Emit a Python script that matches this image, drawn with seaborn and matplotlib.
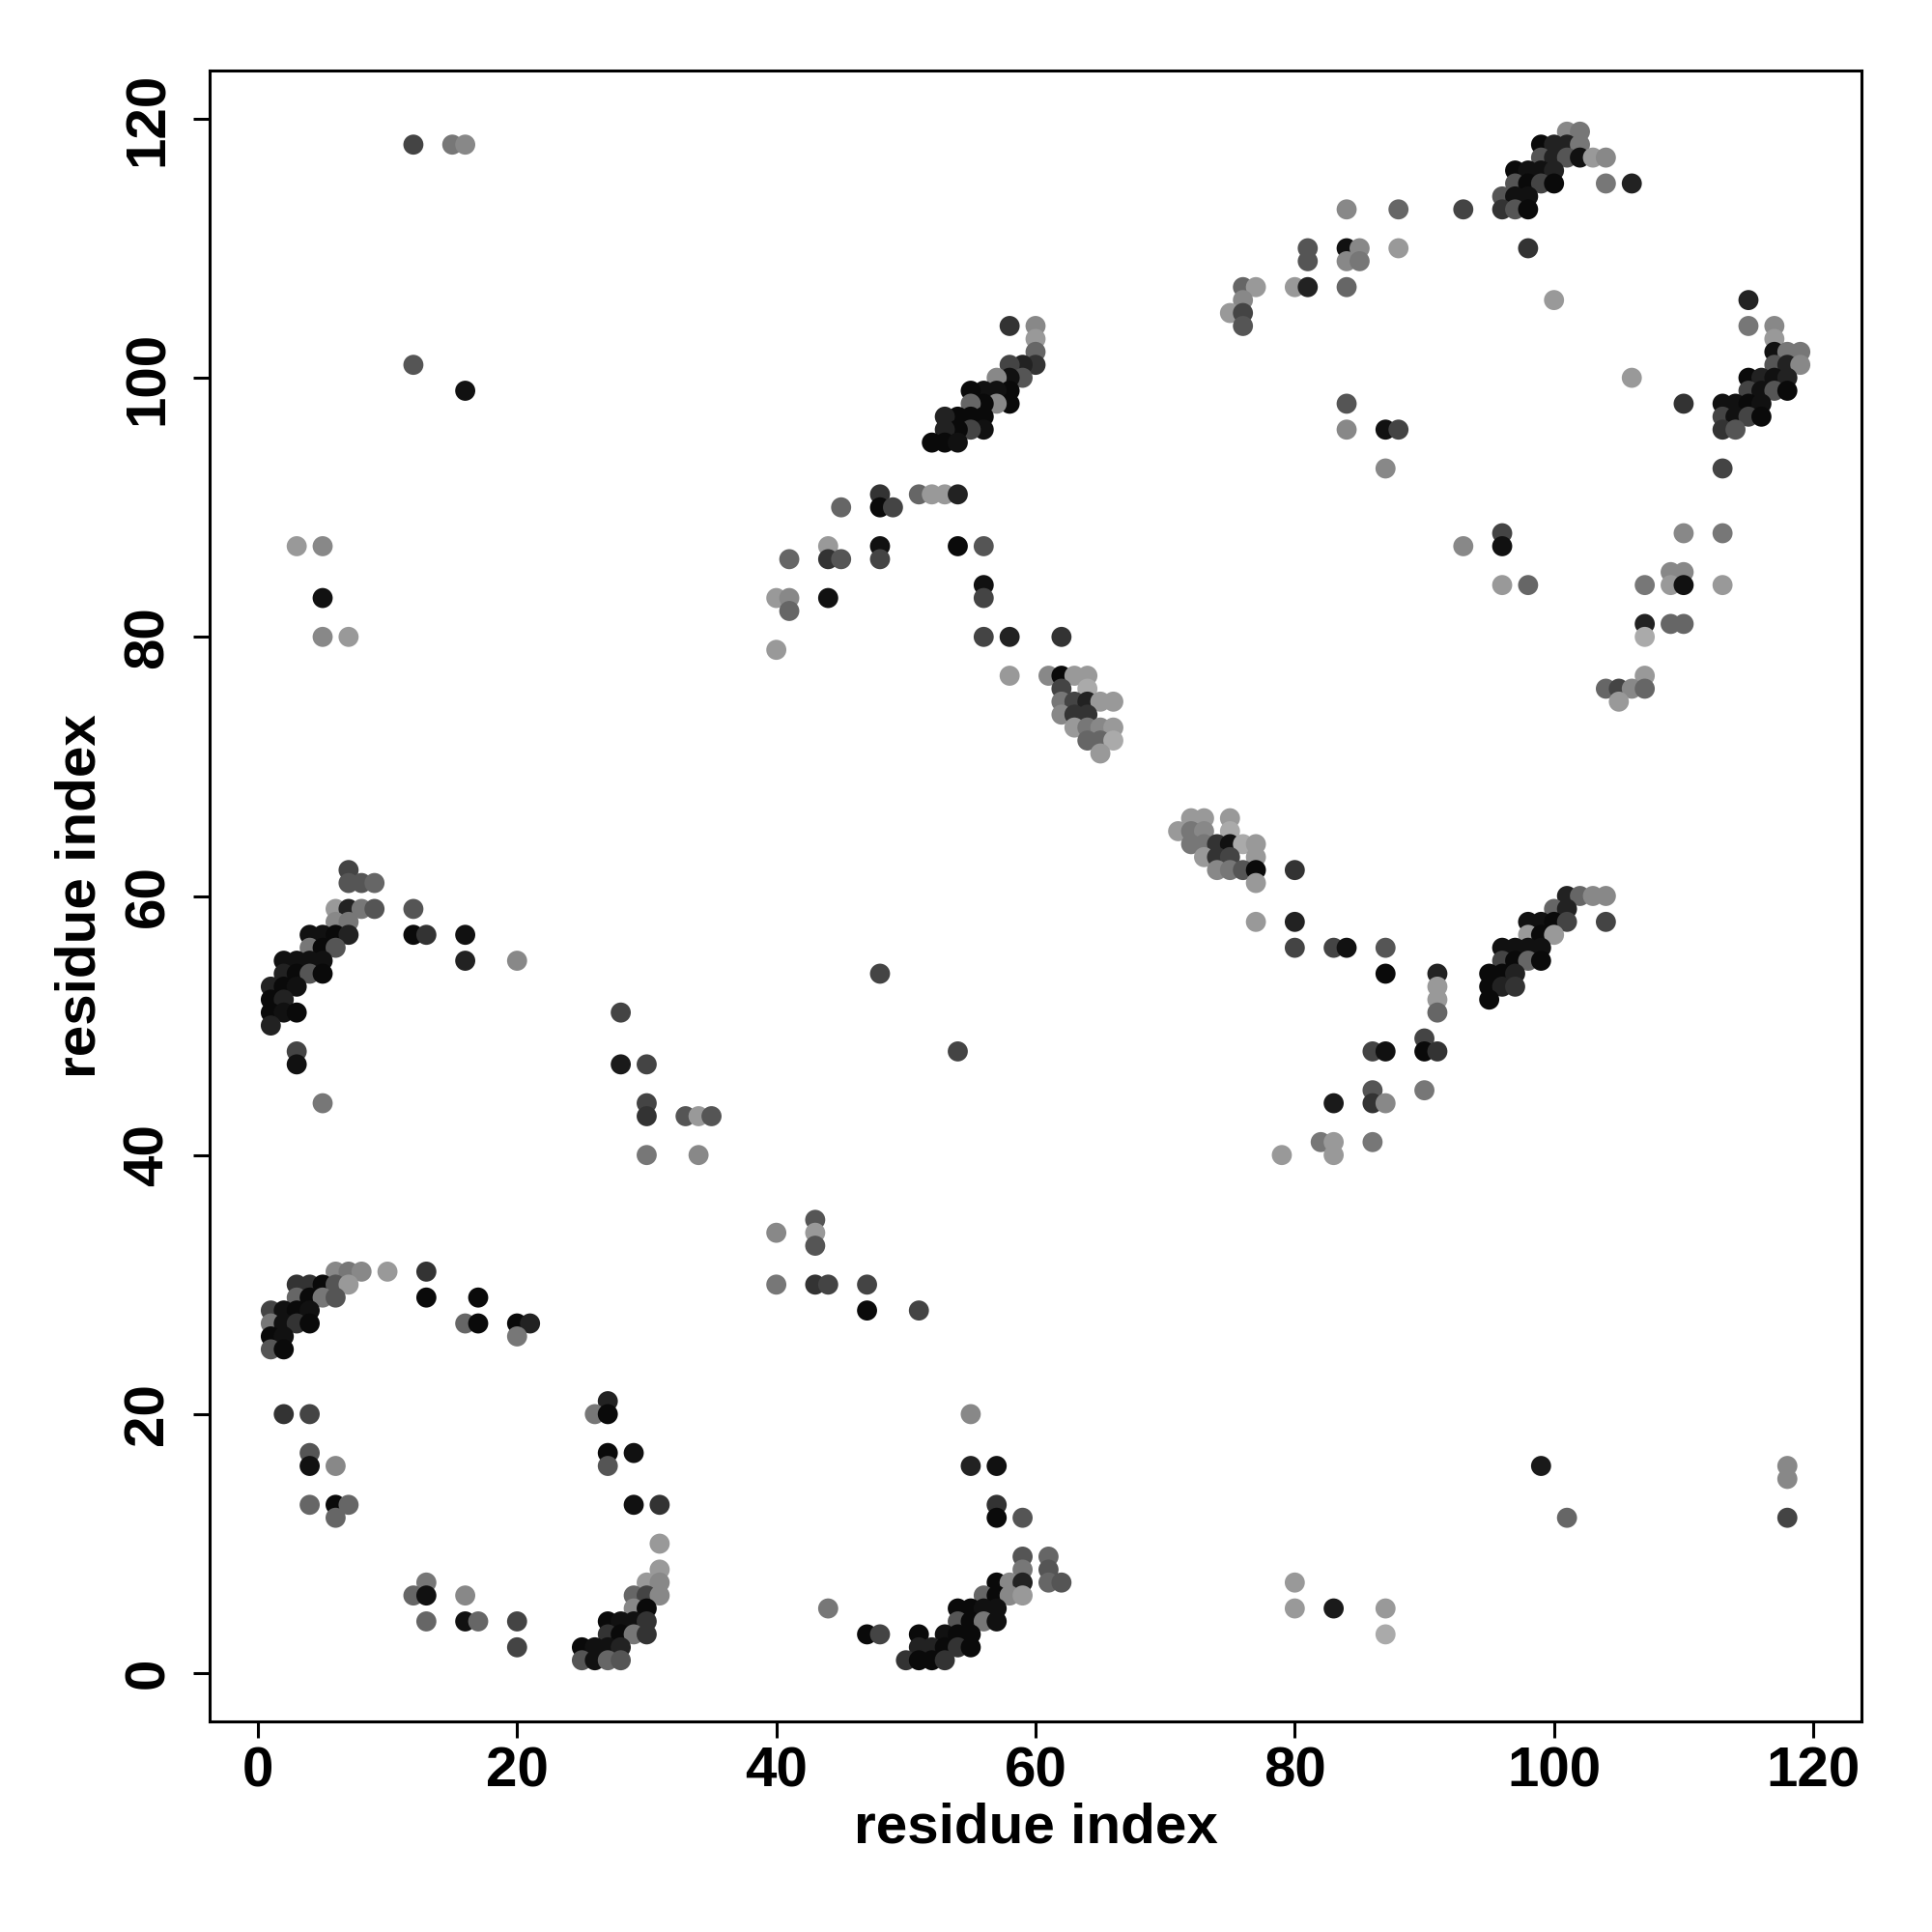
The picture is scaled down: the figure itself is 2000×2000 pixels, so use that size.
import matplotlib
matplotlib.use("Agg")
import matplotlib.pyplot as plt
import seaborn as sns
import pandas as pd

# === Contact map data: residue pairs and grey level (0 = black, 255 = white) ===
res_i = [
    12, 15, 16, 12, 16,
    58, 60, 60, 60, 60, 59, 58, 59, 58, 57,
    58, 57, 56, 55, 58, 57, 56, 55, 56, 55,
    54, 53, 56, 55, 54, 53, 52, 53, 54,
    81, 81, 76, 77, 80, 81, 76, 75, 76, 76,
    101, 102, 99, 100, 101, 102, 99, 100, 101, 102, 103, 104,
    97, 98, 99, 100, 97, 98, 99, 100, 104, 106,
    96, 97, 98, 96, 97, 98, 84, 88, 93,
    84, 85, 88, 98, 84, 85, 84, 100, 115,
    115, 117, 117, 117, 118, 119, 117, 118, 119,
    106, 115, 116, 117, 118, 115, 116, 117, 118,
    84, 110, 113, 114, 115, 116, 113, 114, 115, 116,
    84, 87, 88, 113, 114, 87, 113,
    3, 5, 5, 5, 7, 7, 7, 8, 9,
    48, 51, 52, 53, 54, 45, 48, 49,
    44, 48, 54, 56, 41, 44, 45, 48,
    40, 41, 44, 56, 56, 41, 40,
    56, 58, 62, 58, 61, 62, 63, 64,
    62, 64, 62, 63, 64, 65, 66, 62, 63, 64,
    63, 64, 65, 66, 64, 65, 66, 65,
    72, 73, 75, 71, 72, 73, 75,
    72, 73, 74, 75, 76, 77, 73, 74, 75, 77,
    74, 75, 76, 77, 80, 77,
    96, 96, 93, 110, 113, 109, 110,
    96, 98, 107, 109, 110, 113,
    107, 109, 110, 107, 107, 104, 105, 106, 107, 105,
    101, 102, 103, 104,
    6, 7, 8, 9, 12, 6, 7,
    4, 5, 6, 7, 12, 13, 16, 4, 5, 6,
    2, 3, 4, 5, 16, 20, 2, 3, 4, 5,
    1, 2, 3, 1, 2, 1, 2, 3, 1,
    3, 3, 5,
    28, 28, 30, 30, 30, 33, 34, 35, 30, 34,
    6, 7, 8, 10, 13, 3, 4, 5, 6, 7,
    3, 4, 5, 6, 13, 17,
    77, 80, 80, 48, 54, 79,
    40, 43, 43, 43, 40, 43, 44, 47, 47, 51,
    100, 101, 98, 99, 100, 101, 104, 98, 99, 100,
    96, 97, 98, 99, 96, 97, 98, 99,
    95, 96, 97, 95, 96, 97, 95,
    83, 84, 87, 87, 91, 91, 91, 91,
    90, 90, 91, 86, 87, 86, 90, 83, 86, 87,
    82, 83, 86, 83,
    1, 2, 3, 4, 1, 2, 3, 4, 1, 2, 1, 2,
    16, 17, 20, 21, 20, 2, 4,
    4, 4, 6, 4, 6, 7, 6,
    27, 26, 27, 27, 29, 27, 29, 31,
    31, 31, 30, 31, 29, 30, 31, 29, 30,
    27, 28, 29, 30, 27, 28, 29, 30,
    25, 26, 27, 28, 25, 26, 27, 28,
    13, 12, 13, 16, 13, 16, 17, 20, 20,
    55, 55, 57, 57, 57, 59, 59, 61, 59, 61,
    57, 58, 59, 61, 62, 56, 57, 58, 59,
    44, 54, 55, 56, 57, 54, 55, 56, 57,
    47, 48, 51, 53, 54, 55, 51, 52, 53, 54, 55,
    50, 51, 52, 53, 80, 80,
    99, 101, 118, 118, 118, 83, 87, 87,
]

res_j = [
    118, 118, 118, 101, 99,
    104, 104, 103, 102, 101, 101, 101, 100, 100, 100,
    99, 99, 99, 99, 98, 98, 98, 98, 97, 97,
    97, 97, 96, 96, 96, 96, 95, 95, 95,
    110, 109, 107, 107, 107, 107, 106, 105, 105, 104,
    119, 119, 118, 118, 118, 118, 117, 117, 117, 117, 117, 117,
    116, 116, 116, 116, 115, 115, 115, 115, 115, 115,
    114, 114, 114, 113, 113, 113, 113, 113, 113,
    110, 110, 110, 110, 109, 109, 107, 106, 106,
    104, 104, 103, 102, 102, 102, 101, 101, 101,
    100, 100, 100, 100, 100, 99, 99, 99, 99,
    98, 98, 98, 98, 98, 98, 97, 97, 97, 97,
    96, 96, 96, 96, 96, 93, 93,
    87, 87, 83, 80, 80, 62, 61, 61, 61,
    91, 91, 91, 91, 91, 90, 90, 90,
    87, 87, 87, 87, 86, 86, 86, 86,
    83, 83, 83, 84, 83, 82, 79,
    80, 80, 80, 77, 77, 77, 77, 77,
    76, 76, 75, 75, 75, 75, 75, 74, 74, 74,
    73, 73, 73, 73, 72, 72, 72, 71,
    66, 66, 66, 65, 65, 65, 65,
    64, 64, 64, 64, 64, 64, 63, 63, 63, 63,
    62, 62, 62, 62, 62, 61,
    88, 87, 87, 88, 88, 85, 85,
    84, 84, 84, 84, 84, 84,
    81, 81, 81, 80, 77, 76, 76, 76, 76, 75,
    60, 60, 60, 60,
    59, 59, 59, 59, 59, 58, 58,
    57, 57, 57, 57, 57, 57, 57, 56, 56, 56,
    55, 55, 55, 55, 55, 55, 54, 54, 54, 54,
    53, 53, 53, 52, 52, 51, 51, 51, 50,
    48, 47, 44,
    51, 47, 47, 44, 43, 43, 43, 43, 40, 40,
    31, 31, 31, 31, 31, 30, 30, 30, 30, 30,
    29, 29, 29, 29, 29, 29,
    58, 58, 56, 54, 48, 40,
    34, 35, 34, 33, 30, 30, 30, 30, 28, 28,
    59, 59, 58, 58, 58, 58, 58, 57, 57, 57,
    56, 56, 56, 56, 55, 55, 55, 55,
    54, 54, 54, 53, 53, 53, 52,
    56, 56, 56, 54, 54, 53, 52, 51,
    49, 48, 48, 48, 48, 45, 45, 44, 44, 44,
    41, 41, 41, 40,
    28, 28, 28, 28, 27, 27, 27, 27, 26, 26, 25, 25,
    27, 27, 27, 27, 26, 20, 20,
    17, 16, 16, 13, 13, 13, 12,
    21, 20, 20, 17, 17, 16, 13, 13,
    10, 8, 7, 7, 6, 6, 6, 5, 5,
    4, 4, 4, 4, 3, 3, 3, 3,
    2, 2, 2, 2, 1, 1, 1, 1,
    7, 6, 6, 6, 4, 4, 4, 4, 2,
    20, 16, 16, 13, 12, 12, 9, 9, 8, 8,
    7, 7, 7, 7, 7, 6, 6, 6, 6,
    5, 5, 5, 5, 5, 4, 4, 4, 4,
    3, 3, 3, 3, 3, 3, 2, 2, 2, 2, 2,
    1, 1, 1, 1, 7, 5,
    16, 12, 16, 15, 12, 5, 5, 3,
]

grey_level = [
    68, 119, 136, 85, 17,
    51, 136, 153, 102, 51, 34, 68, 85, 17, 136,
    10, 17, 17, 10, 10, 136, 10, 102, 10, 10,
    10, 34, 17, 68, 10, 34, 10, 10, 17,
    85, 85, 102, 153, 153, 34, 136, 153, 68, 85,
    136, 119, 10, 34, 34, 119, 85, 34, 85, 17, 153, 136,
    10, 17, 17, 34, 85, 10, 68, 10, 119, 34,
    85, 17, 17, 51, 85, 10, 136, 102, 68,
    17, 136, 153, 51, 136, 119, 102, 153, 34,
    119, 136, 153, 17, 119, 119, 85, 34, 136,
    153, 10, 34, 17, 34, 68, 17, 85, 10,
    85, 51, 17, 17, 10, 17, 68, 17, 68, 10,
    136, 17, 68, 51, 85, 136, 68,
    153, 136, 17, 136, 153, 68, 85, 85, 102,
    51, 102, 153, 153, 34, 102, 10, 68,
    153, 17, 10, 85, 102, 51, 85, 68,
    153, 136, 17, 17, 68, 102, 153,
    68, 34, 51, 153, 136, 10, 153, 153,
    68, 170, 119, 68, 34, 153, 153, 136, 51, 51,
    153, 119, 136, 153, 102, 102, 170, 153,
    153, 153, 153, 153, 119, 136, 170,
    119, 119, 51, 17, 170, 153, 153, 51, 68, 153,
    136, 119, 85, 10, 51, 153,
    68, 17, 136, 136, 119, 136, 136,
    153, 102, 119, 153, 17, 153,
    34, 102, 102, 170, 153, 102, 68, 136, 102, 153,
    34, 102, 136, 136,
    153, 34, 119, 85, 85, 136, 119,
    17, 17, 10, 34, 10, 51, 17, 119, 10, 85,
    17, 17, 17, 17, 34, 136, 34, 10, 85, 10,
    34, 10, 17, 10, 34, 10, 17, 10, 34,
    68, 17, 119,
    68, 26, 68, 68, 51, 85, 153, 85, 119, 136,
    136, 119, 136, 153, 51, 51, 51, 10, 85, 153,
    102, 10, 119, 85, 10, 10,
    153, 34, 68, 68, 68, 153,
    136, 85, 153, 85, 119, 51, 68, 68, 10, 68,
    102, 34, 17, 17, 10, 68, 68, 153, 10, 153,
    17, 17, 17, 17, 68, 10, 102, 10,
    10, 10, 34, 10, 34, 51, 10,
    68, 17, 85, 10, 34, 153, 153, 102,
    68, 10, 51, 68, 17, 85, 119, 26, 51, 136,
    119, 153, 119, 153,
    68, 17, 10, 17, 119, 17, 51, 10, 10, 17, 85, 10,
    102, 10, 10, 34, 119, 51, 68,
    85, 17, 136, 102, 10, 102, 102,
    34, 119, 10, 10, 17, 85, 17, 51,
    153, 153, 153, 136, 102, 68, 136, 136, 10,
    10, 17, 17, 51, 51, 10, 119, 51,
    10, 17, 17, 34, 85, 17, 102, 85,
    119, 102, 17, 136, 102, 17, 102, 68, 68,
    136, 34, 17, 51, 10, 85, 85, 102, 119, 85,
    10, 136, 34, 102, 85, 102, 10, 136, 153,
    119, 10, 10, 17, 17, 85, 10, 119, 17,
    10, 68, 10, 17, 10, 10, 34, 34, 10, 51, 10,
    51, 10, 10, 51, 153, 153,
    26, 102, 136, 136, 68, 26, 153, 170,
]

ticks = [0, 20, 40, 60, 80, 100, 120]
axis_label = "residue index"

df = pd.DataFrame({"i": res_i, "j": res_j, "grey": grey_level})

sns.set_style("white")
plt.rcParams["font.family"] = ["Liberation Sans", "DejaVu Sans"]
plt.rcParams["font.weight"] = "bold"
plt.rcParams["text.color"] = "black"
plt.rcParams["axes.labelcolor"] = "black"
plt.rcParams["xtick.color"] = "black"
plt.rcParams["ytick.color"] = "black"

fig = plt.figure(figsize=(10, 10), dpi=200)
ax = fig.add_axes([0.1085, 0.109, 0.855, 0.8545])

sns.scatterplot(
    data=df, x="i", y="j", hue="grey",
    palette="gray", hue_norm=(0, 255),
    s=56, linewidth=0, legend=False, ax=ax
)

ax.set_xlim(-3.72, 123.72)
ax.set_ylim(-3.72, 123.72)
ax.set_xticks(ticks)
ax.set_yticks(ticks)
ax.set_xticklabels([str(t) for t in ticks], fontsize=21, fontweight="bold")
ax.set_yticklabels([str(t) for t in ticks], fontsize=21, fontweight="bold",
                   rotation=90, va="center")
ax.tick_params(axis="both", direction="out", length=6, width=1.1,
               color="black", labelcolor="black", bottom=True, left=True)
ax.tick_params(axis="x", pad=3)
ax.tick_params(axis="y", pad=7)

for side in ax.spines.values():
    side.set_visible(True)
    side.set_color("black")
    side.set_linewidth(1.1)

ax.set_xlabel(axis_label, fontsize=21, fontweight="bold", va="center", color="black")
ax.set_ylabel(axis_label, fontsize=21, fontweight="bold", va="center", color="black")
ax.xaxis.set_label_coords(0.5, -0.0644)
ax.yaxis.set_label_coords(-0.078, 0.5)

fig.savefig("out.png", dpi=200, facecolor="white")
